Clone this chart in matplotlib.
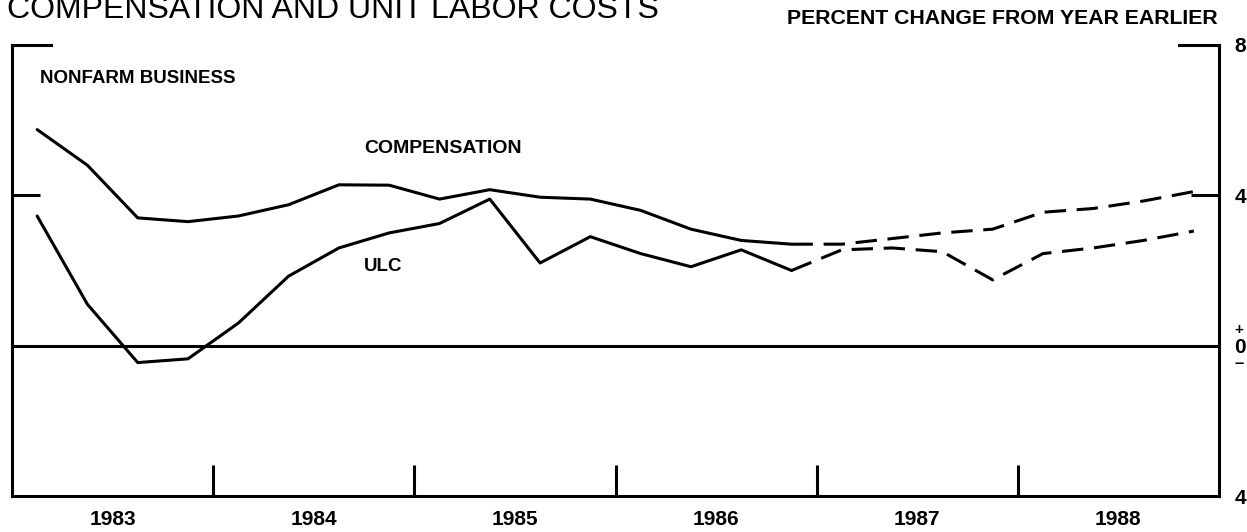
import matplotlib
matplotlib.use("Agg")
import matplotlib.pyplot as plt
import numpy as np

# ---- data (percent change from year earlier, quarterly 1983Q1..1988Q4) ----
years = [1983, 1984, 1985, 1986, 1987, 1988]
year_labels = ["1983", "1984", "1985", "1986", "1987", "1988"]
compensation = [5.75, 4.80, 3.40, 3.30,
                3.45, 3.75, 4.28, 4.27,
                3.90, 4.15, 3.95, 3.90,
                3.60, 3.10, 2.80, 2.70,
                2.70, 2.85, 3.00, 3.10,
                3.55, 3.65, 3.85, 4.10]
ulc = [3.45, 1.10, -0.45, -0.35,
       0.60, 1.85, 2.60, 3.00,
       3.25, 3.90, 2.20, 2.90,
       2.45, 2.10, 2.55, 2.00,
       2.55, 2.60, 2.50, 1.75,
       2.45, 2.60, 2.80, 3.05]
last_actual = 15  # 1986Q4: projections (dashed) start here
ytick_vals = [8, 4, 0, -4]
ytick_labels = ["8", "4", "0", "4"]

W, H = 1247, 532
fig = plt.figure(figsize=(W / 100, H / 100), dpi=100)
fx = lambda x: x / W
fy = lambda y: 1 - y / H

ax = fig.add_axes([fx(12), fy(496), fx(1219) - fx(12), fy(45) - fy(496)])
ax.set_xlim(1983, 1989)
ax.set_ylim(-4, 8)

q = np.array([y + (k + 0.5) / 4 for y in years for k in range(4)])
comp = np.array(compensation)
u = np.array(ulc)
LW = 2.2
s = slice(0, last_actual + 1)
d = slice(last_actual, None)
ax.plot(q[s], comp[s], color="black", lw=LW, solid_capstyle="round")
ax.plot(q[s], u[s], color="black", lw=LW, solid_capstyle="round")
ax.plot(q[d], comp[d], color="black", lw=LW, dashes=(7, 3.5))
ax.plot(q[d], u[d], color="black", lw=LW, dashes=(7, 3.5))
ax.axhline(0, color="black", lw=LW)

for sp in ["left", "right", "bottom"]:
    ax.spines[sp].set_linewidth(LW)
ax.spines["top"].set_visible(False)
# partial top frame
ax.plot([0, 0.032], [1, 1], transform=ax.transAxes, color="black", lw=LW, clip_on=False)
ax.plot([0.967, 1], [1, 1], transform=ax.transAxes, color="black", lw=LW, clip_on=False)

bold = dict(family=["Liberation Sans", "DejaVu Sans"], weight="bold")

# x ticks: year boundaries (major, no labels), year labels at mid-year (minor)
ax.set_xticks(years[1:])
ax.set_xticklabels([])
ax.tick_params(axis="x", which="major", direction="in", length=22, width=LW, top=False)
ax.set_xticks([y + 0.5 for y in years], minor=True)
ax.set_xticklabels(year_labels, minor=True, fontsize=15, **bold)
ax.tick_params(axis="x", which="minor", length=0, pad=10)

# y ticks on right
ax.set_yticks([4])
ax.set_yticklabels([ytick_labels[1]])
ax.set_yticks([ytick_vals[0], ytick_vals[2], ytick_vals[3]], minor=True)
ax.set_yticklabels([ytick_labels[0], ytick_labels[2], ytick_labels[3]], minor=True)
ax.tick_params(axis="y", which="major", direction="in", length=20, width=LW,
               left=True, right=True, labelleft=False, labelright=True, pad=11)
ax.tick_params(axis="y", which="minor", length=0, left=False, right=True,
               labelleft=False, labelright=True, pad=11)
for lab in ax.get_yticklabels() + ax.get_yticklabels(minor=True):
    lab.set_fontsize(15)
    lab.set_fontfamily(bold["family"])
    lab.set_fontweight("bold")
# + and - marks around the zero label
ax.annotate("+", xy=(1, 0), xycoords=("axes fraction", "data"), xytext=(14.5, 11),
            textcoords="offset points", ha="center", va="center", fontsize=11, **bold)
ax.annotate("\u2013", xy=(1, 0), xycoords=("axes fraction", "data"), xytext=(14.5, -13),
            textcoords="offset points", ha="center", va="center", fontsize=12, **bold)

# texts
fig.text(fx(7), fy(18), "COMPENSATION AND UNIT LABOR COSTS", fontsize=23,
         family=["Liberation Sans", "DejaVu Sans"], ha="left", va="baseline")
fig.text(fx(1218), fy(24), "PERCENT CHANGE FROM YEAR EARLIER", fontsize=15.3,
         ha="right", va="baseline", **bold)
ax.text(1983.14, 7.1, "NONFARM BUSINESS", fontsize=13.5, ha="left", va="center", **bold)
ax.text(1984.75, 5.24, "COMPENSATION", fontsize=14, ha="left", va="center", **bold)
ax.text(1984.75, 2.1, "ULC", fontsize=13.5, ha="left", va="center", **bold)

fig.savefig("out.png", dpi=100)
